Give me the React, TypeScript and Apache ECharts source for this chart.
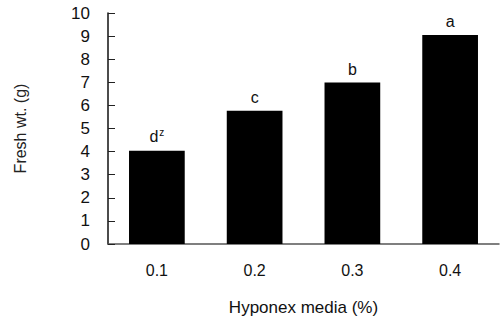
import React, { useEffect, useRef } from "react";
import * as echarts from "echarts";

const categories = ["0.1", "0.2", "0.3", "0.4"];
const freshWeight = [4.04, 5.77, 6.99, 9.05];
const letters = ["d", "c", "b", "a"];
const yTicks = { min: 0, max: 10, interval: 1 };

export default function App() {
  const ref = useRef<HTMLDivElement>(null);
  useEffect(() => {
    if (!ref.current) return;
    const chart = echarts.init(ref.current, null, { renderer: "svg", width: 500, height: 321 });
    const font = "'Liberation Sans', Arial, sans-serif";
    chart.setOption({
      animation: false,
      grid: { left: 108, right: 1, top: 13, bottom: 77, containLabel: false },
      xAxis: {
        type: "category",
        data: categories,
        name: "Hyponex media (%)",
        nameLocation: "middle",
        nameGap: 55,
        nameTextStyle: { fontFamily: font, fontSize: 17, color: "#111" },
        axisLine: { lineStyle: { color: "#555", width: 1.5 } },
        axisTick: { inside: true, length: 6, lineStyle: { color: "#222" } },
        axisLabel: { fontFamily: font, fontSize: 16, color: "#111", margin: 18 },
      },
      yAxis: {
        type: "value",
        min: yTicks.min,
        max: yTicks.max,
        interval: yTicks.interval,
        name: "Fresh wt. (g)",
        nameLocation: "middle",
        nameGap: 80,
        nameTextStyle: { fontFamily: font, fontSize: 16, color: "#222" },
        axisLine: { show: true, lineStyle: { color: "#111", width: 1.5 } },
        axisTick: { show: true, inside: true, length: 7, lineStyle: { color: "#222" } },
        axisLabel: { fontFamily: font, fontSize: 17, color: "#111", margin: 18 },
        splitLine: { show: false },
      },
      series: [
        {
          type: "bar",
          data: freshWeight,
          barWidth: "57%",
          itemStyle: { color: "#000" },
          label: {
            show: true,
            position: "top",
            distance: 5,
            fontFamily: font,
            fontSize: 16,
            color: "#111",
            formatter: (p: any) =>
              p.dataIndex === 0 ? `${letters[p.dataIndex]}{sup|z}` : letters[p.dataIndex],
            rich: {
              sup: { fontSize: 10, verticalAlign: "top", padding: [0, 0, 8, 1], fontFamily: font, color: "#111" },
            },
          },
        },
      ],
    });
    return () => chart.dispose();
  }, []);
  return <div ref={ref} style={{ width: 500, height: 321, position: "absolute", left: 0, top: 0 }} />;
}
